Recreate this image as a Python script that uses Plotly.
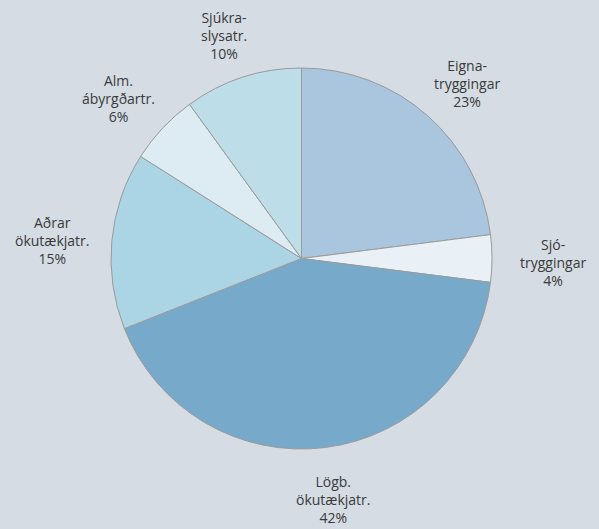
import math
import plotly.graph_objects as go

# Data
categories = ["Eigna-<br>tryggingar", "Sjó-<br>tryggingar", "Lögb.<br>ökutækjatr.",
              "Aðrar<br>ökutækjatr.", "Alm.<br>ábyrgðartr.", "Sjúkra-<br>slysatr."]
values = [23, 4, 42, 15, 6, 10]
colors = ["#a9c6de", "#e9f1f7", "#77a9cb", "#abd5e5", "#ddecf2", "#bddee9"]

W, H = 599, 529
CX, CY, R = 301.5, 258.5, 190.5
LAB_A, LAB_B, LAB_DY = 251, 239, 4   # label ring (ellipse) around the pie
BG = "#d5dce3"

fig = go.Figure(go.Pie(
    labels=categories, values=values, sort=False, direction="clockwise", rotation=0,
    marker=dict(colors=colors, line=dict(color="#9a9a9a", width=1)),
    textinfo="none", hoverinfo="none", showlegend=False,
    domain=dict(x=[(CX - R) / W, (CX + R) / W], y=[1 - (CY + R) / H, 1 - (CY - R) / H]),
))

total = sum(values)
cum = 0
annotations = []
for lab, v in zip(categories, values):
    mid = (cum + v / 2) / total * 2 * math.pi
    cum += v
    s, c = math.sin(mid), math.cos(mid)
    px = CX + LAB_A * s
    py = CY + LAB_DY - LAB_B * c
    annotations.append(dict(
        x=px / W, y=1 - py / H, xref="paper", yref="paper",
        text=f"{lab}<br>{round(v / total * 100)}%", showarrow=False,
        xanchor="center", yanchor="middle", align="center",
        font=dict(family="Open Sans", size=14, color="#3a3a3a"),
    ))

fig.update_layout(
    width=W, height=H, margin=dict(l=0, r=0, t=0, b=0),
    paper_bgcolor=BG, plot_bgcolor=BG, annotations=annotations,
)

fig.write_html("out.html", config={"displayModeBar": False},
               post_script="document.body.style.margin='0';document.body.style.overflow='hidden';")
